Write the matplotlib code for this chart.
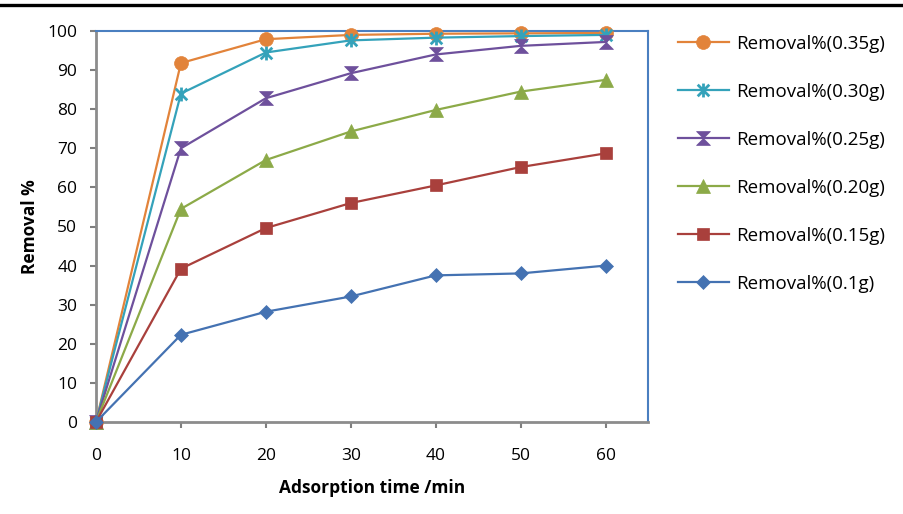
import matplotlib
matplotlib.use("Agg")
import matplotlib.pyplot as plt
from matplotlib.path import Path
from matplotlib.lines import Line2D

plt.rcParams['font.family'] = ['Open Sans', 'DejaVu Sans']

time_min = [0, 10, 20, 30, 40, 50, 60]
removal_035 = [0, 91.8, 97.9, 99.0, 99.3, 99.4, 99.5]
removal_030 = [0, 84.0, 94.5, 97.6, 98.3, 98.7, 99.0]
removal_025 = [0, 70.0, 82.8, 89.2, 94.0, 96.2, 97.2]
removal_020 = [0, 54.5, 67.0, 74.3, 79.8, 84.5, 87.5]
removal_015 = [0, 39.2, 49.6, 56.0, 60.5, 65.2, 68.7]
removal_010 = [0, 22.3, 28.2, 32.1, 37.5, 38.0, 40.0]
labels = ["Removal%(0.35g)", "Removal%(0.30g)", "Removal%(0.25g)",
          "Removal%(0.20g)", "Removal%(0.15g)", "Removal%(0.1g)"]
x_ticks = [0, 10, 20, 30, 40, 50, 60]
y_ticks = [0, 10, 20, 30, 40, 50, 60, 70, 80, 90, 100]

# custom markers
star = Path([(-1, -1), (1, 1), (-1, 1), (1, -1), (0, -1.2), (0, 1.2)],
            [Path.MOVETO, Path.LINETO, Path.MOVETO, Path.LINETO, Path.MOVETO, Path.LINETO])
hourglass = Path([(-1, 1), (1, 1), (0, 0), (-1, 1), (-1, -1), (1, -1), (0, 0), (-1, -1)],
                 [Path.MOVETO, Path.LINETO, Path.LINETO, Path.CLOSEPOLY,
                  Path.MOVETO, Path.LINETO, Path.LINETO, Path.CLOSEPOLY])

series = [removal_035, removal_030, removal_025, removal_020, removal_015, removal_010]
colors = ['#E2833A', '#34A2BA', '#6E509C', '#8CAA48', '#A9403C', '#4472B2']
markers = ['o', star, hourglass, '^', 's', 'D']
msizes = [10, 10, 10, 10, 9, 7.5]

fig = plt.figure(figsize=(9.04, 5.14), dpi=100)
ax = fig.add_axes([96/904, 1 - 422/514, (648-96)/904, (422-31)/514])

for i, (vals, c, m, ms, lab) in enumerate(zip(series, colors, markers, msizes, labels)):
    mew = 2.0 if m is star else 0.5
    ax.plot(time_min, vals, color=c, lw=1.6, marker=m, markersize=ms,
            markerfacecolor=c, markeredgecolor=c, markeredgewidth=mew,
            label=lab, zorder=3 + i, clip_on=False)

ax.set_xlim(0, 65)
ax.set_ylim(0, 100)
ax.set_xticks(x_ticks)
ax.set_yticks(y_ticks)
ax.tick_params(axis='both', labelsize=12.5, colors='#7f7f7f', labelcolor='black',
               length=4.5, width=1.5, direction='out')
ax.tick_params(axis='x', pad=14)
ax.tick_params(axis='y', pad=9)
for s in ['left', 'bottom']:
    ax.spines[s].set_color('#8c8c8c')
    ax.spines[s].set_linewidth(2)
for s in ['top', 'right']:
    ax.spines[s].set_color('#4a7fc0')
    ax.spines[s].set_linewidth(1.5)

ax.set_xlabel("Adsorption time /min", fontsize=12.5, fontweight='bold', labelpad=11)
ax.set_ylabel("Removal %", fontsize=12.5, fontweight='bold', labelpad=6)

fig.legend(loc='upper left', bbox_to_anchor=(678/904, 1 - 35/514), frameon=False,
           fontsize=13.5, handlelength=2.7, handletextpad=0.4, labelspacing=1.6,
           borderaxespad=0, borderpad=0)

fig.add_artist(Line2D([0, 1], [1 - 5/514, 1 - 5/514], transform=fig.transFigure,
                      color='black', lw=2.4))

fig.savefig("out.png", dpi=100)
